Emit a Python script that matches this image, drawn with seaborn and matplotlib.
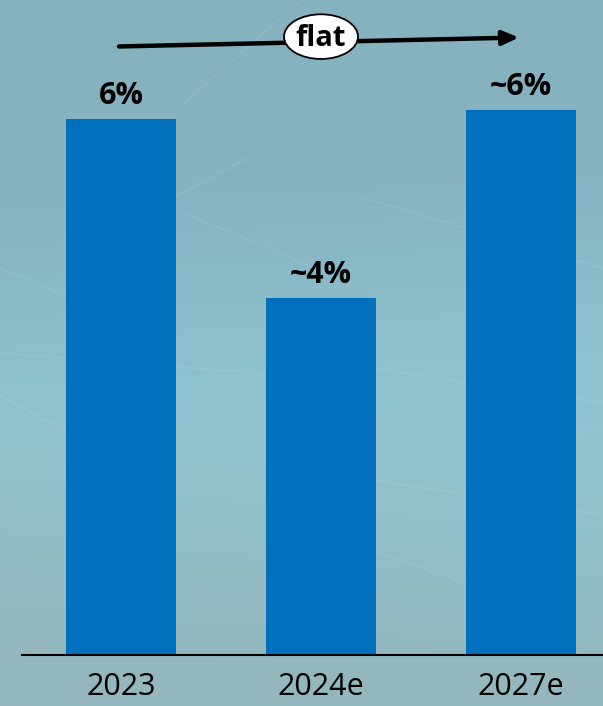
import numpy as np
import matplotlib
matplotlib.use("Agg")
import matplotlib.pyplot as plt
from matplotlib.patches import Ellipse
import seaborn as sns

# Data
categories = ["2023", "2024e", "2027e"]
values = [6.0, 4.0, 6.1]
value_labels = ["6%", "~4%", "~6%"]
trend_label = "flat"

BAR_COLOR = "#0070BD"

sns.set_theme(style="white")
plt.rcParams["font.family"] = ["Open Sans", "DejaVu Sans"]

fig = plt.figure(figsize=(6.03, 7.06), dpi=100)

# Teal backdrop gradient
bg = fig.add_axes([0, 0, 1, 1], zorder=0)
h, w = 200, 170
yy, xx = np.mgrid[0:1:h * 1j, 0:1:w * 1j]
top = np.array([0x86, 0xB1, 0xBF]) / 255
mid = np.array([0x90, 0xC5, 0xD2]) / 255
bot = np.array([0x95, 0xB6, 0xBC]) / 255
t = yy
wmid = np.exp(-((yy - 0.62) ** 2) / 0.06) * (0.5 + 0.5 * xx)
wtop = np.clip(1 - 1.6 * t, 0, 1)
wbot = np.clip((t - 0.55) * 2.2, 0, 1)
wsum = wmid + wtop + wbot + 1e-6
img = (wtop[..., None] * top + wmid[..., None] * mid + wbot[..., None] * bot) / wsum[..., None]
bg.imshow(img, aspect="auto", extent=[0, 1, 0, 1], origin="upper")
# faint network lines
for (x0, y0, x1, y1) in [(0.0, 0.62, 0.28, 0.52), (0.0, 0.5, 0.45, 0.47), (0.45, 0.5, 1.0, 0.43),
                         (0.0, 0.44, 0.25, 0.32), (0.62, 0.32, 1.0, 0.27), (0.3, 0.85, 0.5, 1.0),
                         (0.6, 0.72, 1.0, 0.62), (0.3, 0.7, 0.58, 0.6), (0.62, 0.22, 0.95, 0.12),
                         (0.42, 0.78, 0.2, 0.68)]:
    bg.plot([x0, x1], [y0, y1], color="white", alpha=0.08, lw=1.0)
bg.set_xlim(0, 1)
bg.set_ylim(0, 1)
bg.axis("off")

ax = fig.add_axes([22 / 603, 51 / 706, 1 - 22 / 603, 655 / 706], zorder=1)
ax.patch.set_alpha(0)

sns.barplot(x=categories, y=values, color=BAR_COLOR, saturation=1, width=0.55,
            linewidth=0, edgecolor=BAR_COLOR, ax=ax)

ax.set_xlim(-0.495, 2.41)
ax.set_ylim(0, 7.33)

for i, (v, lab) in enumerate(zip(values, value_labels)):
    ax.annotate(lab, (i, v), xytext=(0, 10.5), textcoords="offset points",
                ha="center", va="baseline", fontsize=22, fontweight="bold", color="black")

# Trend arrow with "flat" badge
ax.annotate("", xy=(1.99, 6.91), xytext=(-0.01, 6.81),
            arrowprops=dict(arrowstyle="-|>,head_length=0.8,head_width=0.35",
                            color="black", lw=3.2, shrinkA=0, shrinkB=0,
                            capstyle="round"), zorder=3)
ax.add_patch(Ellipse((1.0, 6.92), width=0.37, height=0.5, facecolor="white",
                     edgecolor="black", lw=1.3, zorder=4))
ax.text(1.0, 6.90, trend_label, ha="center", va="center", fontsize=21,
        fontweight="bold", color="black", zorder=5)

sns.despine(ax=ax, left=True, top=True, right=True)
ax.spines["bottom"].set_color("black")
ax.spines["bottom"].set_linewidth(1.5)
ax.set_yticks([])
ax.tick_params(axis="x", length=0, pad=12.5, labelsize=22, labelcolor="black")
ax.set_xlabel("")
ax.set_ylabel("")

fig.savefig("out.png", dpi=100)
